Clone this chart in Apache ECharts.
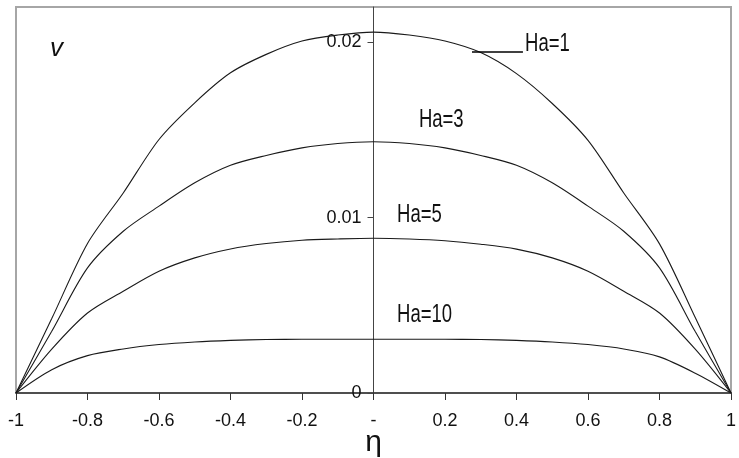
<!DOCTYPE html>
<html>
<head>
<meta charset="utf-8">
<script src="https://cdn.jsdelivr.net/npm/echarts@6/dist/echarts.min.js"></script>
<style>
  html, body { margin: 0; padding: 0; background: #fff; }
  #chart { width: 739px; height: 458px; }
</style>
</head>
<body>
<div id="chart"></div>
<script>
// Transverse coordinate across the channel
const eta = [-1, -0.9, -0.8, -0.7, -0.6, -0.5, -0.4, -0.3, -0.2, -0.1, 0,
             0.1, 0.2, 0.3, 0.4, 0.5, 0.6, 0.7, 0.8, 0.9, 1];

// Velocity profiles for each Hartmann number
const vHa1 = [0, 0.00424, 0.00852, 0.0114, 0.01445, 0.01654, 0.01825, 0.0193, 0.02006, 0.0204, 0.02057,
              0.0204, 0.02006, 0.0194, 0.0182, 0.0165, 0.0144, 0.0114, 0.0085, 0.0043, 0];
const vHa3 = [0, 0.00352, 0.00713, 0.00922, 0.01065, 0.01198, 0.01298, 0.01354, 0.01397, 0.01422, 0.01432,
              0.01422, 0.01397, 0.01354, 0.01298, 0.01198, 0.01065, 0.00922, 0.00713, 0.0035, 0];
const vHa5 = [0, 0.0025, 0.00456, 0.0058, 0.00694, 0.0077, 0.00821, 0.00852, 0.00871, 0.00878, 0.00882,
              0.00878, 0.00868, 0.00848, 0.0082, 0.0077, 0.00694, 0.0058, 0.00456, 0.0025, 0];
const vHa10 = [0, 0.00133, 0.00213, 0.00251, 0.00276, 0.00291, 0.003, 0.00305, 0.00306, 0.00306, 0.00306,
               0.00306, 0.00306, 0.00305, 0.003, 0.00291, 0.00276, 0.00251, 0.00206, 0.00113, 0];

const curveNames = ['Ha=1', 'Ha=3', 'Ha=5', 'Ha=10'];
const curveValues = [vHa1, vHa3, vHa5, vHa10];
// Where each curve's name is written (eta, v): left edge, vertical centre
const labelAt = [[0.424, 0.0199], [0.127, 0.01553], [0.066, 0.01015], [0.066, 0.00444]];
// Leader line from the Ha=1 curve to its name
const leader = [[0.2755, 0.01943], [0.418, 0.01943]];

const sans = "'Liberation Sans', Arial, sans-serif";
const gridBox = { left: 16, right: 8, top: 7, bottom: 65 };
const chartW = 739;

const chart = echarts.init(document.getElementById('chart'));

const series = curveNames.map((name, i) => ({
  name: name,
  type: 'line',
  data: eta.map((x, k) => [x, curveValues[i][k]]),
  smooth: 0.3,
  symbol: 'none',
  lineStyle: { color: '#1a1a1a', width: 1.1 },
  z: 3,
  markLine: i === 0 ? {
    symbol: 'none',
    silent: true,
    label: { show: false },
    lineStyle: { color: '#000', width: 1.5, type: 'solid' },
    data: [[{ coord: leader[0] }, { coord: leader[1] }]]
  } : undefined
}));

// The vertical axis sits at eta = 0, in the middle of the grid
const yAxisOffset = -(chartW - gridBox.left - gridBox.right) / 2;

chart.setOption({
  animation: false,
  backgroundColor: '#fff',
  grid: Object.assign({
    show: true,
    borderColor: '#a6a6a6',
    borderWidth: 2,
    containLabel: false,
    outerBoundsMode: 'none'
  }, gridBox),
  xAxis: {
    type: 'value',
    min: -1, max: 1, interval: 0.2,
    name: 'η',
    nameLocation: 'middle',
    nameGap: 35,
    nameMoveOverlap: false,
    nameTextStyle: { fontSize: 30, color: '#111', fontFamily: sans },
    axisLine: { show: true, onZero: false, lineStyle: { color: '#333', width: 1.5 } },
    axisTick: { show: true, inside: false, length: 7, lineStyle: { color: '#333', width: 1 } },
    axisLabel: {
      margin: 19,
      fontSize: 18,
      color: '#111',
      fontFamily: sans,
      formatter: v => Math.abs(v) < 1e-9 ? '-' : String(+v.toFixed(1))
    },
    splitLine: { show: false }
  },
  yAxis: {
    type: 'value',
    position: 'left',
    offset: yAxisOffset,
    min: 0, max: 0.022, interval: 0.01,
    axisLine: { show: true, onZero: false, lineStyle: { color: '#444', width: 1 } },
    axisTick: { show: true, inside: false, length: 6, lineStyle: { color: '#444', width: 1 } },
    axisLabel: {
      margin: 12,
      fontSize: 18,
      color: '#111',
      fontFamily: sans,
      showMaxLabel: false,
      formatter: v => v === 0 ? '0' : String(+v.toFixed(2))
    },
    splitLine: { show: false }
  },
  series: series
});

// Curve names, placed in data coordinates, drawn in a condensed face
const nameGraphics = curveNames.map((name, i) => {
  const p = chart.convertToPixel({ gridIndex: 0 }, labelAt[i]);
  return {
    type: 'text',
    x: p[0], y: p[1],
    scaleX: 0.74,
    z: 10,
    style: {
      text: name,
      fontSize: 25,
      fontFamily: sans,
      fill: '#111',
      align: 'left',
      verticalAlign: 'middle'
    }
  };
});
chart.setOption({
  graphic: [{
    type: 'text',
    left: 50, top: 36,
    style: { text: 'v', fontSize: 26, fontStyle: 'italic', fontFamily: sans, fill: '#111' }
  }].concat(nameGraphics)
});
</script>
</body>
</html>
